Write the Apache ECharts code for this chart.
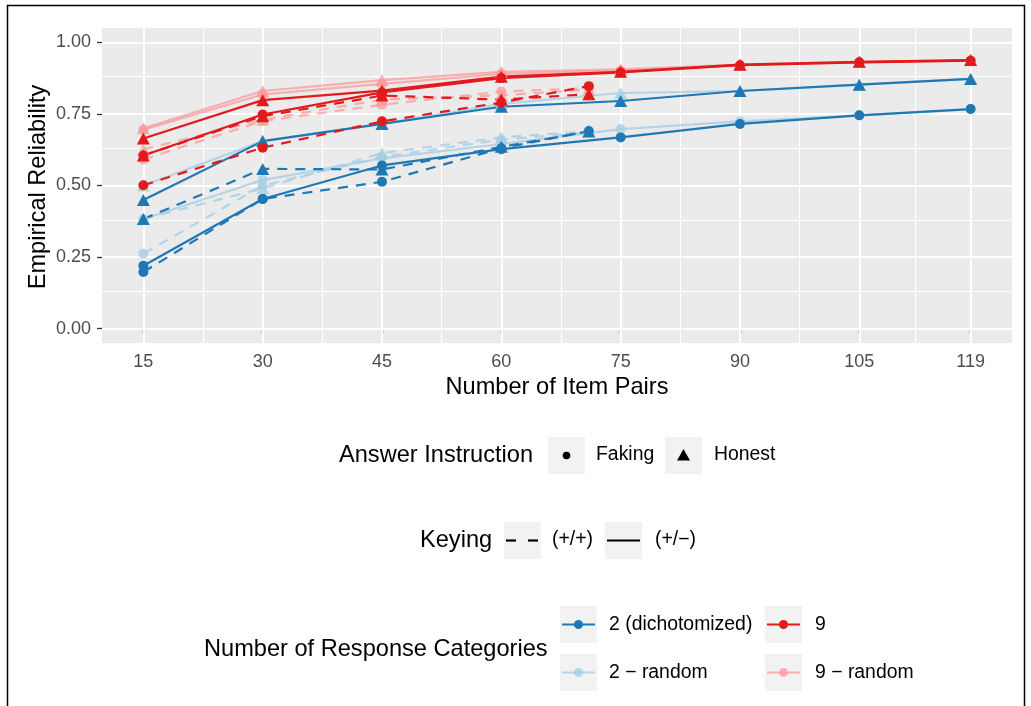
<!DOCTYPE html>
<html><head><meta charset="utf-8">
<script src="https://cdn.jsdelivr.net/npm/echarts@6/dist/echarts.min.js"></script>
<style>html,body{margin:0;padding:0;background:#fff}#c{width:1031px;height:706px}</style>
</head><body><div id="c"></div><script>
// ---- data ----
const xTicks = [15, 30, 45, 60, 75, 90, 105, 119];
const yTicks = [0, 0.25, 0.5, 0.75, 1.0];
const xSolid = [15, 30, 45, 60, 75, 90, 105, 119];   // keying (+/-)
const xDashed = [15, 30, 45, 60, 71];                // keying (+/+)

// 2 - random
const lbHonestSolid  = [0.500, 0.655, 0.715, 0.785, 0.823, 0.830, 0.852, 0.872];
const lbFakingSolid  = [0.383, 0.519, 0.595, 0.645, 0.697, 0.724, 0.745, 0.767];
const lbHonestDashed = [0.383, 0.490, 0.613, 0.668, 0.690];
const lbFakingDashed = [0.262, 0.500, 0.600, 0.660, 0.685];
// 9 - random
const pkHonestSolid  = [0.700, 0.830, 0.868, 0.897, 0.906, 0.922, 0.932, 0.938];
const pkFakingSolid  = [0.695, 0.818, 0.855, 0.890, 0.902, 0.920, 0.930, 0.936];
const pkHonestDashed = [0.626, 0.730, 0.800, 0.815, 0.835];
const pkFakingDashed = [0.591, 0.725, 0.782, 0.828, 0.840];
// 2 (dichotomized)
const blHonestSolid  = [0.449, 0.655, 0.715, 0.775, 0.795, 0.830, 0.852, 0.872];
const blFakingSolid  = [0.220, 0.453, 0.570, 0.627, 0.668, 0.715, 0.745, 0.767];
const blHonestDashed = [0.383, 0.558, 0.556, 0.635, 0.689];
const blFakingDashed = [0.198, 0.453, 0.513, 0.630, 0.690];
// 9
const rdHonestSolid  = [0.664, 0.798, 0.831, 0.880, 0.897, 0.922, 0.932, 0.938];
const rdFakingSolid  = [0.605, 0.748, 0.825, 0.875, 0.895, 0.920, 0.930, 0.936];
const rdHonestDashed = [0.605, 0.742, 0.814, 0.800, 0.819];
const rdFakingDashed = [0.501, 0.632, 0.724, 0.790, 0.847];

const catNames = ['2 (dichotomized)', '2 \u2212 random', '9', '9 \u2212 random'];
const C_BLUE = '#1F78B4', C_LBLUE = '#A6CEE3', C_RED = '#E31A1C', C_PINK = '#FB9A99';

const FONT = 'Liberation Sans, Arial, Helvetica, sans-serif';
const T_SIZE = 23.6, L_SIZE = 19.4;

function mk(name, xs, ys, color, dashed, symbol, opacity) {
  return {
    type: 'line', name: name,
    data: xs.map((x, i) => [x, ys[i]]),
    symbol: symbol,
    symbolSize: symbol === 'circle' ? 10 : [13, 12],
    showSymbol: true,
    lineStyle: { color: color, width: 2.2, type: dashed ? [10, 8] : 'solid', opacity: opacity },
    itemStyle: { color: color, opacity: opacity },
    z: 3, silent: true, animation: false, emphasis: { disabled: true }
  };
}

const majorX = xTicks;
const minorX = xTicks.slice(1).map((v, i) => (v + xTicks[i]) / 2);
const majorY = yTicks;
const minorY = yTicks.slice(1).map((v, i) => (v + yTicks[i]) / 2);

const gridLines = [];
majorX.forEach(v => gridLines.push({ xAxis: v, lineStyle: { width: 2 } }));
minorX.forEach(v => gridLines.push({ xAxis: v, lineStyle: { width: 1 } }));
majorY.forEach(v => gridLines.push({ yAxis: v, lineStyle: { width: 2 } }));
minorY.forEach(v => gridLines.push({ yAxis: v, lineStyle: { width: 1 } }));

const series = [
  {
    type: 'line', data: [[15, 0]], showSymbol: false, lineStyle: { width: 0 }, silent: true, z: 1,
    markLine: {
      silent: true, z: 1, symbol: ['none', 'none'], label: { show: false }, animation: false,
      lineStyle: { color: '#FFFFFF', type: 'solid' }, emphasis: { disabled: true },
      data: gridLines
    }
  },
  mk('lbFS', xSolid, lbFakingSolid, C_LBLUE, false, 'circle', 0.8),
  mk('lbHS', xSolid, lbHonestSolid, C_LBLUE, false, 'triangle', 0.8),
  mk('lbFD', xDashed, lbFakingDashed, C_LBLUE, true, 'circle', 0.8),
  mk('lbHD', xDashed, lbHonestDashed, C_LBLUE, true, 'triangle', 0.8),
  mk('pkFS', xSolid, pkFakingSolid, C_PINK, false, 'circle', 0.75),
  mk('pkHS', xSolid, pkHonestSolid, C_PINK, false, 'triangle', 0.75),
  mk('pkFD', xDashed, pkFakingDashed, C_PINK, true, 'circle', 0.75),
  mk('pkHD', xDashed, pkHonestDashed, C_PINK, true, 'triangle', 0.75),
  mk('blFS', xSolid, blFakingSolid, C_BLUE, false, 'circle', 1),
  mk('blHS', xSolid, blHonestSolid, C_BLUE, false, 'triangle', 1),
  mk('blFD', xDashed, blFakingDashed, C_BLUE, true, 'circle', 1),
  mk('blHD', xDashed, blHonestDashed, C_BLUE, true, 'triangle', 1),
  mk('rdFS', xSolid, rdFakingSolid, C_RED, false, 'circle', 1),
  mk('rdHS', xSolid, rdHonestSolid, C_RED, false, 'triangle', 1),
  mk('rdFD', xDashed, rdFakingDashed, C_RED, true, 'circle', 1),
  mk('rdHD', xDashed, rdHonestDashed, C_RED, true, 'triangle', 1)
];

// ---- legend graphics ----
const KEY_BG = '#F2F2F2';
const g = [];
function txt(x, y, s, size, align) {
  g.push({ type: 'text', x: x, y: y, silent: true,
    style: { text: s, fontSize: size, fontFamily: FONT, fill: '#000', align: align || 'left', verticalAlign: 'middle' } });
}
function box(x, y) {
  g.push({ type: 'rect', silent: true, shape: { x: x, y: y, width: 37, height: 37 }, style: { fill: KEY_BG } });
}
function seg(x1, x2, y, color, w) {
  g.push({ type: 'line', silent: true, shape: { x1: x1, y1: y, x2: x2, y2: y }, style: { stroke: color, lineWidth: w } });
}
// Answer Instruction
txt(339, 455, 'Answer Instruction', T_SIZE);
box(548, 437);
g.push({ type: 'circle', silent: true, shape: { cx: 566.5, cy: 455.5, r: 3.8 }, style: { fill: '#000' } });
txt(596, 455, 'Faking', L_SIZE);
box(665, 437);
g.push({ type: 'polygon', silent: true, shape: { points: [[683.5, 449], [690, 460.5], [677, 460.5]] }, style: { fill: '#000' } });
txt(714, 455, 'Honest', L_SIZE);
// Keying
txt(420, 540, 'Keying', T_SIZE);
box(504, 522);
seg(506, 516, 540.5, '#000', 2.2);
seg(528, 538, 540.5, '#000', 2.2);
txt(552, 540, '(+/+)', L_SIZE);
box(605, 522);
seg(607, 640, 540.5, '#000', 2.2);
txt(655, 540, '(+/\u2212)', L_SIZE);
// Number of Response Categories
txt(204, 649, 'Number of Response Categories', T_SIZE);
const keyDefs = [
  [560, 606, C_BLUE, 1, catNames[0], 609],
  [560, 654, C_LBLUE, 0.8, catNames[1], 609],
  [765, 606, C_RED, 1, catNames[2], 815],
  [765, 654, C_PINK, 0.75, catNames[3], 815]
];
keyDefs.forEach(k => {
  box(k[0], k[1]);
  g.push({ type: 'line', silent: true, shape: { x1: k[0] + 2, y1: k[1] + 18.5, x2: k[0] + 35, y2: k[1] + 18.5 }, style: { stroke: k[2], lineWidth: 2.2, opacity: k[3] } });
  g.push({ type: 'circle', silent: true, shape: { cx: k[0] + 18.5, cy: k[1] + 18.5, r: 4.5 }, style: { fill: k[2], opacity: k[3] } });
  txt(k[5], k[1] + 18.5, k[4], L_SIZE);
});
// axis titles
txt(557, 387, 'Number of Item Pairs', T_SIZE, 'center');
g.push({ type: 'text', x: 38, y: 187, rotation: Math.PI / 2, silent: true,
  style: { text: 'Empirical Reliability', fontSize: T_SIZE, fontFamily: FONT, fill: '#000', align: 'center', verticalAlign: 'middle' } });
// outer frame
g.push({ type: 'rect', silent: true, shape: { x: 7.5, y: 5.5, width: 1017, height: 715 }, style: { fill: 'none', stroke: '#000', lineWidth: 1.5 } });

const chart = echarts.init(document.getElementById('c'), null, { renderer: 'canvas' });
chart.setOption({
  animation: false,
  backgroundColor: '#FFFFFF',
  grid: { left: 102, top: 28, width: 910, height: 315, show: true, backgroundColor: '#EBEBEB', borderWidth: 0, containLabel: false },
  xAxis: {
    type: 'value', min: 9.8, max: 124.2,
    axisLine: { show: false },
    splitLine: { show: false },
    axisTick: { show: true, length: 5, lineStyle: { color: '#333333', width: 1.3 }, customValues: xTicks },
    axisLabel: { customValues: xTicks, margin: 10, color: '#4D4D4D', fontSize: 18, fontFamily: FONT }
  },
  yAxis: {
    type: 'value', min: -0.05, max: 1.05,
    axisLine: { show: false },
    splitLine: { show: false },
    axisTick: { show: true, length: 5, lineStyle: { color: '#333333', width: 1.3 }, customValues: yTicks },
    axisLabel: { customValues: yTicks, margin: 11, color: '#4D4D4D', fontSize: 18, fontFamily: FONT,
      formatter: v => Number(v).toFixed(2) }
  },
  series: series,
  graphic: { elements: g }
});
</script></body></html>
